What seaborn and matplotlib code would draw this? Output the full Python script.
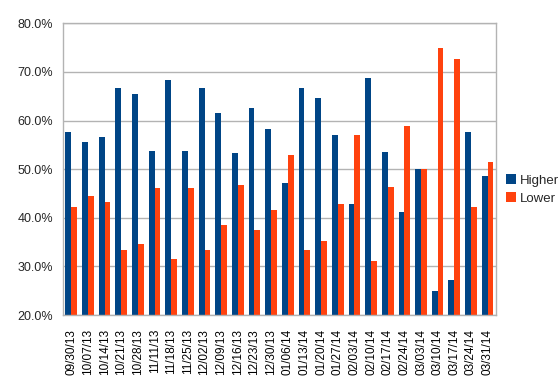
import pandas as pd
import matplotlib
matplotlib.use("Agg")
import matplotlib.pyplot as plt
from matplotlib.ticker import PercentFormatter, FixedLocator
import seaborn as sns

# weekly share of higher / lower closes
dates = ["09/30/13", "10/07/13", "10/14/13", "10/21/13", "10/28/13", "11/11/13",
         "11/18/13", "11/25/13", "12/02/13", "12/09/13", "12/16/13", "12/23/13",
         "12/30/13", "01/06/14", "01/13/14", "01/20/14", "01/27/14", "02/03/14",
         "02/10/14", "02/17/14", "02/24/14", "03/03/14", "03/10/14", "03/17/14",
         "03/24/14", "03/31/14"]
higher = [57.7, 55.6, 56.7, 66.7, 65.4, 53.8, 68.4, 53.8, 66.7, 61.5, 53.3, 62.5,
          58.3, 47.1, 66.7, 64.7, 57.1, 42.9, 68.8, 53.6, 41.2, 50.0, 25.0, 27.3,
          57.7, 48.6]
lower = [42.3, 44.4, 43.3, 33.3, 34.6, 46.2, 31.6, 46.2, 33.3, 38.5, 46.7, 37.5,
         41.7, 52.9, 33.3, 35.3, 42.9, 57.1, 31.2, 46.4, 58.8, 50.0, 75.0, 72.7,
         42.3, 51.4]

df = pd.DataFrame({"date": dates * 2,
                   "value": [v / 100 for v in higher + lower],
                   "series": ["Higher"] * len(dates) + ["Lower"] * len(dates)})

sns.set_style("white")
plt.rcParams['font.family'] = ['Liberation Sans', 'DejaVu Sans']

fig = plt.figure(figsize=(5.59, 3.88), dpi=100)
ax = fig.add_axes([0.1127, 0.188, 0.7745, 0.752])

sns.barplot(data=df, x="date", y="value", hue="series",
            palette={"Higher": "#004586", "Lower": "#ff420e"},
            saturation=1, width=0.7, linewidth=0, ax=ax)

ax.set_ylim(0.2, 0.8)
ax.set_xlim(-0.5, len(dates) - 0.5)
ax.yaxis.set_major_formatter(PercentFormatter(1, decimals=1))
ax.set_yticks([0.2, 0.3, 0.4, 0.5, 0.6, 0.7, 0.8])
ax.grid(axis='y', color='#b3b3b3', linewidth=1)
ax.set_axisbelow(True)
ax.set_xlabel("")
ax.set_ylabel("")

ax.tick_params(axis='x', which='major', length=0, labelsize=8.5, rotation=90,
               pad=10, colors='#000000')
ax.xaxis.set_minor_locator(FixedLocator([i - 0.5 for i in range(len(dates) + 1)]))
ax.tick_params(axis='x', which='minor', length=5, color='#b3b3b3', width=1)
ax.tick_params(axis='y', length=5, color='#b3b3b3', width=1, labelsize=9, pad=2)

for s in ax.spines.values():
    s.set_color('#b3b3b3')
    s.set_linewidth(1)

ax.legend(title=None, loc='center left', bbox_to_anchor=(1.01, 0.43),
          frameon=False, fontsize=9.5, handlelength=0.8, handleheight=0.8,
          handletextpad=0.3, labelspacing=0.4, borderaxespad=0)

plt.savefig("out.png", dpi=100)
